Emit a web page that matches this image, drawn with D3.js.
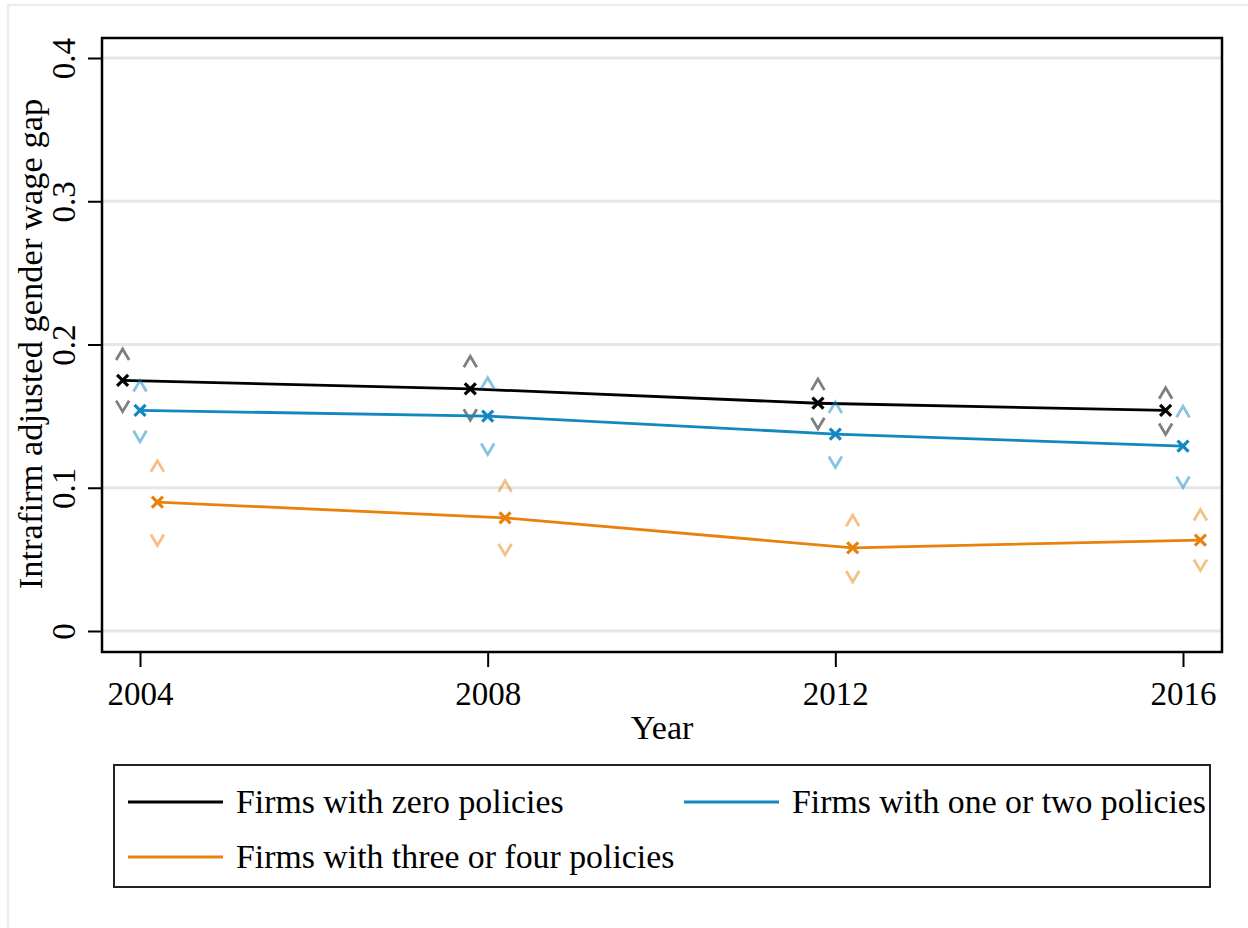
<!DOCTYPE html>
<html>
<head>
<meta charset="utf-8">
<script src="https://cdn.jsdelivr.net/npm/d3@7"></script>
<style>
  html, body { margin: 0; padding: 0; background: #fff; }
  svg { display: block; }
  text { font-family: "Liberation Serif", "Times New Roman", serif; fill: #000; }
</style>
</head>
<body>
<svg id="chart" width="1248" height="928"></svg>
<script>
// Survey years
const years = [2004, 2008, 2012, 2016];

// Point estimates of the intrafirm adjusted gender wage gap, by policy group
const zeroPolicies      = [0.175, 0.169, 0.159, 0.154];
const oneTwoPolicies    = [0.154, 0.150, 0.1375, 0.129];
const threeFourPolicies = [0.090, 0.079, 0.058, 0.0635];

// Confidence bounds (lower / upper)
const zeroLower      = [0.157, 0.151, 0.145, 0.141];
const zeroUpper      = [0.193, 0.188, 0.172, 0.166];
const oneTwoLower    = [0.136, 0.127, 0.118, 0.104];
const oneTwoUpper    = [0.171, 0.173, 0.156, 0.153];
const threeFourLower = [0.0635, 0.057, 0.038, 0.046];
const threeFourUpper = [0.115, 0.101, 0.077, 0.081];

const yTicks = [0, 0.1, 0.2, 0.3, 0.4];
const yTickLabels = ["0", "0.1", "0.2", "0.3", "0.4"];
const seriesNames = [
  "Firms with zero policies",
  "Firms with one or two policies",
  "Firms with three or four policies"
];

const series = [
  { name: seriesNames[0], color: "#000000", shift: -0.2, est: zeroPolicies, lo: zeroLower, hi: zeroUpper },
  { name: seriesNames[1], color: "#1188bf", shift: 0.0, est: oneTwoPolicies, lo: oneTwoLower, hi: oneTwoUpper },
  { name: seriesNames[2], color: "#e8820c", shift: 0.2, est: threeFourPolicies, lo: threeFourLower, hi: threeFourUpper }
];

const svg = d3.select("#chart");

// Graph region outline
svg.append("rect")
  .attr("x", 8).attr("y", 5).attr("width", 1260).attr("height", 940)
  .attr("fill", "#fff").attr("stroke", "#eeeeee").attr("stroke-width", 2.5);

const frame = { left: 102, right: 1222, top: 38, bottom: 652 };

const x = d3.scaleLinear().domain([2004, 2016]).range([140, 1183]);
const y = d3.scaleLinear().domain([0, 0.4]).range([631, 58]);

// Gridlines
svg.append("g").selectAll("line").data(yTicks).join("line")
  .attr("x1", frame.left).attr("x2", frame.right)
  .attr("y1", d => y(d)).attr("y2", d => y(d))
  .attr("stroke", "#e6e6e6").attr("stroke-width", 3);

// Y axis with rotated labels
const yAxis = d3.axisLeft(y).tickValues(yTicks)
  .tickFormat((d, i) => yTickLabels[i]).tickSize(14).tickPadding(0);
const gy = svg.append("g").attr("transform", `translate(${frame.left},0)`).call(yAxis);
gy.select(".domain").remove();
gy.selectAll(".tick line").attr("stroke", "#000").attr("stroke-width", 2);
gy.selectAll(".tick text")
  .attr("x", null).attr("dy", null)
  .attr("transform", "translate(-27,0) rotate(-90)")
  .attr("text-anchor", "middle")
  .style("font-size", "33px");

// X axis
const xAxis = d3.axisBottom(x).tickValues(years).tickFormat(d3.format("d")).tickSize(15).tickPadding(0);
const gx = svg.append("g").attr("transform", `translate(0,${frame.bottom})`).call(xAxis);
gx.select(".domain").remove();
gx.selectAll(".tick line").attr("stroke", "#000").attr("stroke-width", 2);
gx.selectAll(".tick text").attr("y", 53).attr("dy", null).style("font-size", "33px");

// Plot frame
svg.append("rect")
  .attr("x", frame.left).attr("y", frame.top)
  .attr("width", frame.right - frame.left).attr("height", frame.bottom - frame.top)
  .attr("fill", "none").attr("stroke", "#000").attr("stroke-width", 2.5);

// Axis titles
svg.append("text")
  .attr("transform", `translate(42,344) rotate(-90)`)
  .attr("text-anchor", "middle").style("font-size", "34.5px")
  .text("Intrafirm adjusted gender wage gap");
svg.append("text")
  .attr("x", 662).attr("y", 739).attr("text-anchor", "middle")
  .style("font-size", "34px").text("Year");

// Series: lines, confidence markers, point markers
const line = d3.line().x(d => x(d.year)).y(d => y(d.v));

series.forEach(s => {
  const pts = years.map((yr, i) => ({ year: yr + s.shift, v: s.est[i], lo: s.lo[i], hi: s.hi[i] }));
  const g = svg.append("g");

  g.append("path").datum(pts)
    .attr("d", line).attr("fill", "none")
    .attr("stroke", s.color).attr("stroke-width", 2.8);

  // upper bound: ^ marker
  g.selectAll(".hi").data(pts).join("path").attr("class", "hi")
    .attr("transform", d => `translate(${x(d.year)},${y(d.hi)})`)
    .attr("d", "M-6.5,5.5L0,-5.5L6.5,5.5")
    .attr("fill", "none").attr("stroke", s.color).attr("stroke-opacity", 0.5)
    .attr("stroke-width", 2.8);

  // lower bound: v marker
  g.selectAll(".lo").data(pts).join("path").attr("class", "lo")
    .attr("transform", d => `translate(${x(d.year)},${y(d.lo)})`)
    .attr("d", "M-6.5,-5.5L0,5.5L6.5,-5.5")
    .attr("fill", "none").attr("stroke", s.color).attr("stroke-opacity", 0.5)
    .attr("stroke-width", 2.8);

  // estimate: x marker
  g.selectAll(".est").data(pts).join("path").attr("class", "est")
    .attr("transform", d => `translate(${x(d.year)},${y(d.v)})`)
    .attr("d", "M-5.5,-5.5L5.5,5.5M-5.5,5.5L5.5,-5.5")
    .attr("fill", "none").attr("stroke", s.color).attr("stroke-width", 3.2);
});

// Legend
const legend = svg.append("g");
legend.append("rect")
  .attr("x", 114).attr("y", 765).attr("width", 1096).attr("height", 122)
  .attr("fill", "#fff").attr("stroke", "#222").attr("stroke-width", 2);

const legendPos = [
  { lx: 128, ly: 802 },
  { lx: 684, ly: 802 },
  { lx: 128, ly: 857 }
];
series.forEach((s, i) => {
  const p = legendPos[i];
  legend.append("line")
    .attr("x1", p.lx).attr("x2", p.lx + 95)
    .attr("y1", p.ly).attr("y2", p.ly)
    .attr("stroke", s.color).attr("stroke-width", 2.8);
  legend.append("text")
    .attr("x", p.lx + 108).attr("y", p.ly + 11)
    .style("font-size", "33.8px").text(s.name);
});
</script>
</body>
</html>
